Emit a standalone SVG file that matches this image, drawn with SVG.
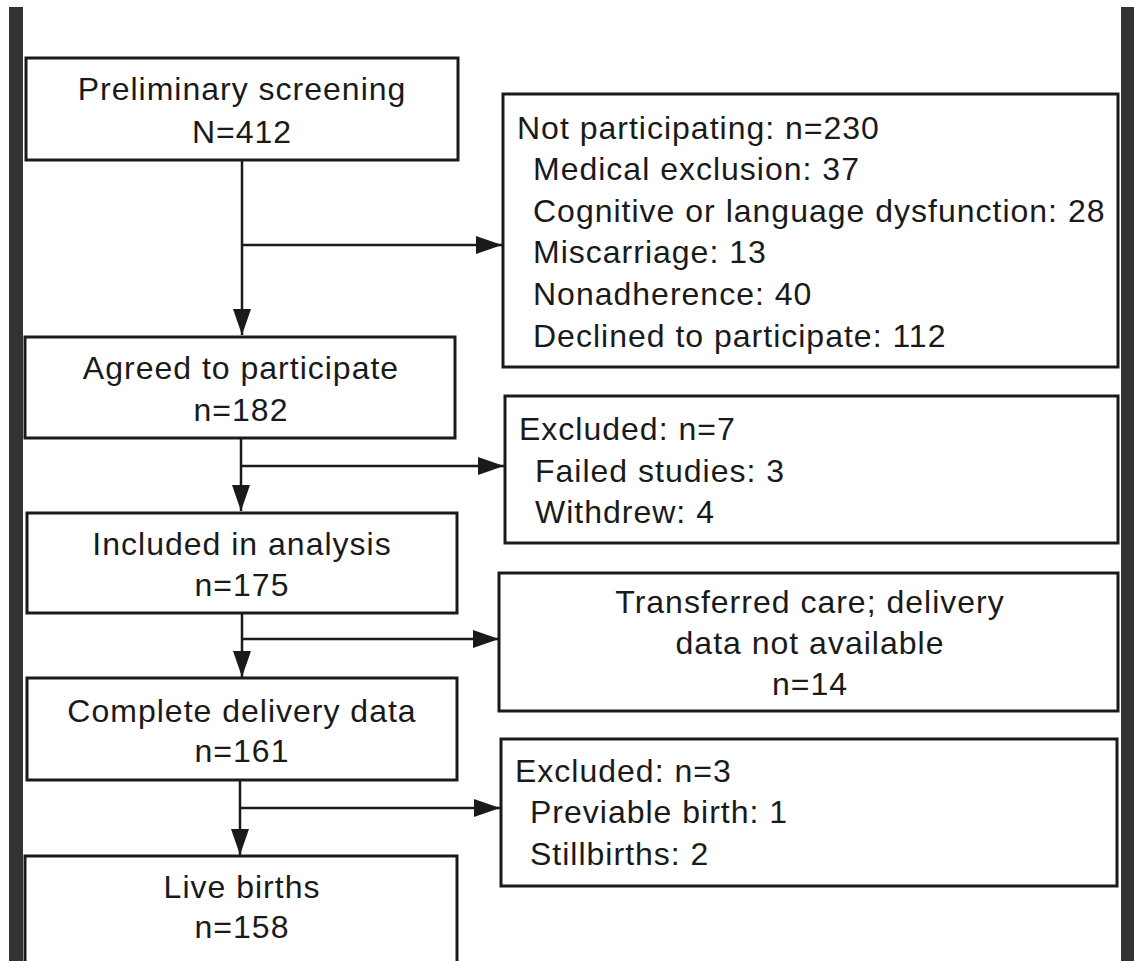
<svg xmlns="http://www.w3.org/2000/svg" width="1134" height="961" viewBox="0 0 1134 961">
<defs>
<marker id="arr" markerUnits="userSpaceOnUse" markerWidth="26" markerHeight="18" refX="26" refY="9" orient="auto">
<path d="M0,0 L26,9 L0,18 z" fill="#1a1a1a"/>
</marker>
<style>
.box{fill:#fff;stroke:#1a1a1a;stroke-width:3}
.bar{fill:#333}
.c{fill:none;stroke:#1a1a1a;stroke-width:2.5}
text{font-family:"Liberation Sans",Arial,Helvetica,sans-serif;font-size:32px;fill:#1a1a1a;letter-spacing:1px}
.m{text-anchor:middle}
</style>
</defs>
<rect width="1134" height="961" fill="#fff"/>
<rect class="bar" x="9" y="7" width="14" height="954"/>
<rect class="bar" x="1121" y="7" width="13" height="954"/>

<g id="connectors">
<line class="c" x1="242" y1="160" x2="242" y2="335" marker-end="url(#arr)"/>
<line class="c" x1="242" y1="245" x2="502" y2="245" marker-end="url(#arr)"/>
<line class="c" x1="241" y1="438" x2="241" y2="511" marker-end="url(#arr)"/>
<line class="c" x1="241" y1="466" x2="504" y2="466" marker-end="url(#arr)"/>
<line class="c" x1="242" y1="613" x2="242" y2="677" marker-end="url(#arr)"/>
<line class="c" x1="242" y1="639" x2="499" y2="639" marker-end="url(#arr)"/>
<line class="c" x1="240" y1="780" x2="240" y2="855" marker-end="url(#arr)"/>
<line class="c" x1="240" y1="808" x2="500" y2="808" marker-end="url(#arr)"/>
</g>

<g id="n1">
<rect class="box" x="26" y="58" width="432" height="102"/>
<text class="m" x="242" y="100">Preliminary screening</text>
<text class="m" x="242" y="143">N=412</text>
</g>
<g id="n2">
<rect class="box" x="25" y="337" width="430" height="101"/>
<text class="m" x="241" y="379">Agreed to participate</text>
<text class="m" x="241" y="421">n=182</text>
</g>
<g id="n3">
<rect class="box" x="27" y="513" width="430" height="100"/>
<text class="m" x="242" y="555">Included in analysis</text>
<text class="m" x="242" y="596">n=175</text>
</g>
<g id="n4">
<rect class="box" x="27" y="678" width="430" height="102"/>
<text class="m" x="242" y="722">Complete delivery data</text>
<text class="m" x="242" y="762">n=161</text>
</g>
<g id="n5">
<rect class="box" x="25" y="856" width="432" height="120"/>
<text class="m" x="242" y="898">Live births</text>
<text class="m" x="242" y="938">n=158</text>
</g>

<g id="r1">
<rect class="box" x="503" y="94" width="615" height="273"/>
<text x="517" y="139">Not participating: n=230</text>
<text x="533" y="180">Medical exclusion: 37</text>
<text x="533" y="222">Cognitive or language dysfunction: 28</text>
<text x="533" y="263">Miscarriage: 13</text>
<text x="533" y="305">Nonadherence: 40</text>
<text x="533" y="347">Declined to participate: 112</text>
</g>
<g id="r2">
<rect class="box" x="505" y="396" width="613" height="147"/>
<text x="519" y="440">Excluded: n=7</text>
<text x="535" y="482">Failed studies: 3</text>
<text x="535" y="523">Withdrew: 4</text>
</g>
<g id="r3">
<rect class="box" x="499" y="573" width="619" height="138"/>
<text class="m" x="810" y="613">Transferred care; delivery</text>
<text class="m" x="810" y="654">data not available</text>
<text class="m" x="810" y="695">n=14</text>
</g>
<g id="r4">
<rect class="box" x="501" y="739" width="616" height="147"/>
<text x="515" y="782">Excluded: n=3</text>
<text x="530" y="823">Previable birth: 1</text>
<text x="530" y="865">Stillbirths: 2</text>
</g>
</svg>
